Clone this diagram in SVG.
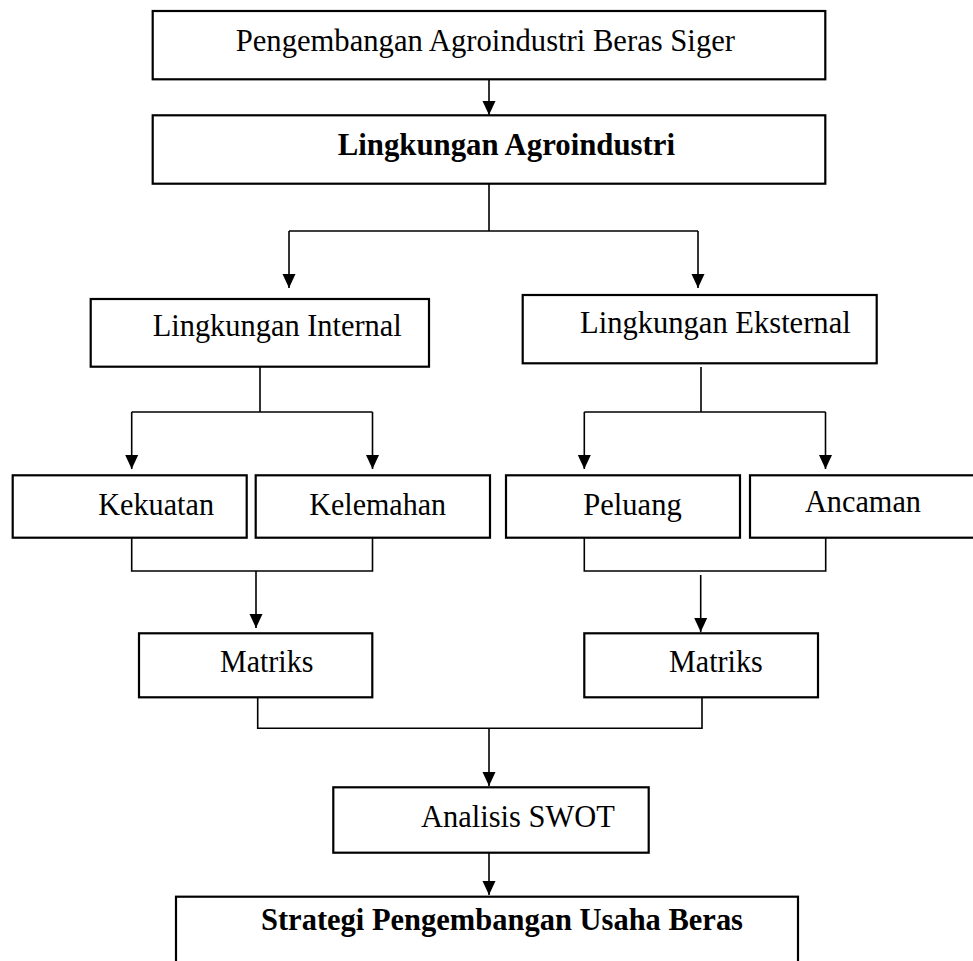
<svg xmlns="http://www.w3.org/2000/svg" width="973" height="961" viewBox="0 0 973 961">
  <style>
    .box { fill: #ffffff; stroke: #000000; stroke-width: 2.2; }
    .lbl { font-family: "Liberation Serif", "Times New Roman", serif; font-size: 31px; fill: #000000; }
    .bold { font-weight: bold; }
    .conn { fill: none; stroke: #000000; stroke-width: 1.6; }
  </style>
  <defs>
    <marker id="arrowDown" markerUnits="userSpaceOnUse" markerWidth="16" markerHeight="14" viewBox="0 0 16 14" refX="15" refY="7" orient="auto">
      <path d="M1,0.5 L15,7 L1,13.5 Z" fill="#000000"/>
    </marker>
  </defs>

  <rect width="973" height="961" fill="#ffffff"/>

  <!-- connectors -->
  <g id="connectors" class="conn">
    <path d="M489,79 V115" marker-end="url(#arrowDown)"/>
    <path d="M489,184 V231 M289,231 H698"/>
    <path d="M289,231 V288" marker-end="url(#arrowDown)"/>
    <path d="M698,231 V288" marker-end="url(#arrowDown)"/>

    <path d="M260,367 V412 M131.7,412 H372.5"/>
    <path d="M131.7,412 V469" marker-end="url(#arrowDown)"/>
    <path d="M372.5,412 V469" marker-end="url(#arrowDown)"/>

    <path d="M701,367 V412 M584.3,412 H825.5"/>
    <path d="M584.3,412 V469" marker-end="url(#arrowDown)"/>
    <path d="M825.5,412 V469" marker-end="url(#arrowDown)"/>

    <path d="M131.7,538 V571 H372.5 V538"/>
    <path d="M256,571 V628" marker-end="url(#arrowDown)"/>

    <path d="M584.3,538 V571 H825.7 V538"/>
    <path d="M700.7,575 V632" marker-end="url(#arrowDown)"/>

    <path d="M257.7,697 V728.3 H702 V697"/>
    <path d="M489,728.3 V786" marker-end="url(#arrowDown)"/>

    <path d="M489,853 V895" marker-end="url(#arrowDown)"/>
  </g>

  <!-- nodes -->
  <g id="pengembangan">
    <rect class="box" x="152.7" y="11" width="672.6" height="68.3"/>
    <text class="lbl" x="235.7" y="50.7" textLength="499.3" lengthAdjust="spacingAndGlyphs">Pengembangan Agroindustri Beras Siger</text>
  </g>
  <g id="lingkungan-agroindustri">
    <rect class="box" x="152.7" y="115.3" width="672.6" height="68.4"/>
    <text class="lbl bold" x="337.7" y="155" textLength="337.3" lengthAdjust="spacingAndGlyphs">Lingkungan Agroindustri</text>
  </g>
  <g id="lingkungan-internal">
    <rect class="box" x="90.7" y="299" width="338.3" height="67.7"/>
    <text class="lbl" x="152.7" y="336" textLength="249" lengthAdjust="spacingAndGlyphs">Lingkungan Internal</text>
  </g>
  <g id="lingkungan-eksternal">
    <rect class="box" x="522.7" y="295" width="354" height="68.3"/>
    <text class="lbl" x="580" y="332.7" textLength="270.7" lengthAdjust="spacingAndGlyphs">Lingkungan Eksternal</text>
  </g>
  <g id="kekuatan">
    <rect class="box" x="12.7" y="475.3" width="234" height="62.4"/>
    <text class="lbl" x="98.3" y="515" textLength="115.7" lengthAdjust="spacingAndGlyphs">Kekuatan</text>
  </g>
  <g id="kelemahan">
    <rect class="box" x="255.7" y="475.3" width="234.3" height="62.4"/>
    <text class="lbl" x="309.3" y="515" textLength="136.7" lengthAdjust="spacingAndGlyphs">Kelemahan</text>
  </g>
  <g id="peluang">
    <rect class="box" x="506" y="475.3" width="234" height="62.4"/>
    <text class="lbl" x="583.3" y="515" textLength="98.4" lengthAdjust="spacingAndGlyphs">Peluang</text>
  </g>
  <g id="ancaman">
    <rect class="box" x="750" y="475.3" width="226" height="62.4"/>
    <text class="lbl" x="805" y="512" textLength="116" lengthAdjust="spacingAndGlyphs">Ancaman</text>
  </g>
  <g id="matriks-internal">
    <rect class="box" x="139" y="633.3" width="233.3" height="64"/>
    <text class="lbl" x="220" y="671.7" textLength="93.3" lengthAdjust="spacingAndGlyphs">Matriks</text>
  </g>
  <g id="matriks-eksternal">
    <rect class="box" x="584.3" y="633.3" width="233.7" height="64"/>
    <text class="lbl" x="669" y="671.7" textLength="93.7" lengthAdjust="spacingAndGlyphs">Matriks</text>
  </g>
  <g id="analisis-swot">
    <rect class="box" x="333.3" y="787.3" width="315.4" height="65.4"/>
    <text class="lbl" x="421" y="826.7" textLength="193.8" lengthAdjust="spacingAndGlyphs">Analisis SWOT</text>
  </g>
  <g id="strategi">
    <rect class="box" x="176" y="896.7" width="622" height="80"/>
    <text class="lbl bold" x="261" y="930" textLength="482" lengthAdjust="spacingAndGlyphs">Strategi Pengembangan Usaha Beras</text>
  </g>
</svg>
